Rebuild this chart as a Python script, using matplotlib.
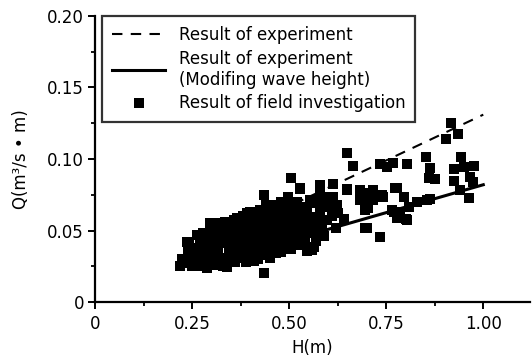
#!/usr/bin/env python3

from matplotlib import pyplot as plt
from matplotlib.ticker import MultipleLocator, FixedLocator, FixedFormatter


# field investigation (H in m, Q in m3/s/m)
h_field = [
    0.219, 0.228, 0.225,
    0.236, 0.240, 0.245, 0.250, 0.243,
    0.262, 0.258, 0.265, 0.262, 0.270, 0.270,
    0.279, 0.280, 0.285, 0.288, 0.283, 0.290,
    0.296, 0.301, 0.300, 0.305, 0.300, 0.310, 0.310,
    0.322, 0.320, 0.325, 0.318, 0.325, 0.330, 0.330,
    0.339, 0.340, 0.345, 0.340, 0.345, 0.335, 0.350, 0.350,
    0.357, 0.365, 0.360, 0.362, 0.358, 0.365, 0.360, 0.370, 0.370,
    0.380, 0.378, 0.385, 0.380, 0.384, 0.378, 0.390, 0.390, 0.388,
    0.391, 0.398, 0.400, 0.402, 0.398, 0.405, 0.400, 0.410, 0.410, 0.408,
    0.425, 0.420, 0.418, 0.425, 0.420, 0.425, 0.420, 0.430, 0.430,
    0.434, 0.440, 0.445, 0.440, 0.445, 0.440, 0.445, 0.440, 0.434, 0.450, 0.450,
    0.466, 0.460, 0.465, 0.460, 0.465, 0.460, 0.465, 0.451, 0.470,
    0.480, 0.485, 0.480, 0.485, 0.480, 0.485, 0.480, 0.490, 0.490,
    0.496, 0.504, 0.500, 0.505, 0.500, 0.505, 0.500, 0.505, 0.510, 0.510, 0.511,
    0.527, 0.520, 0.525, 0.520, 0.525, 0.520, 0.525, 0.530, 0.537,
    0.546, 0.537, 0.540, 0.545, 0.540, 0.546, 0.540, 0.528, 0.554, 0.554,
    0.563, 0.571, 0.558, 0.563, 0.560, 0.565, 0.570, 0.571, 0.584,
    0.580, 0.580, 0.597, 0.597, 0.580, 0.585, 0.590, 0.597,
    0.614, 0.614, 0.623, 0.610, 0.620, 0.606, 0.623, 0.627, 0.640,
    0.649, 0.664, 0.649, 0.650, 0.683, 0.683, 0.717, 0.700, 0.683, 0.704,
    0.696, 0.700, 0.696, 0.709, 0.717, 0.739,
    0.735, 0.752, 0.767, 0.735, 0.735, 0.743, 0.773, 0.778, 0.795, 0.769,
    0.765, 0.778, 0.786, 0.802, 0.803, 0.782, 0.808,
    0.803, 0.829, 0.853, 0.863, 0.876, 0.859, 0.862, 0.855, 0.863,
    0.917, 0.936, 0.903, 0.942, 0.925, 0.951, 0.977, 0.924, 0.966, 0.973,
    0.962, 0.941,
]
q_field = [
    0.0250, 0.0270, 0.0300,
    0.0420, 0.0360, 0.0300, 0.0250, 0.0400,
    0.0470, 0.0380, 0.0320, 0.0250, 0.0420, 0.0280,
    0.0480, 0.0380, 0.0330, 0.0235, 0.0440, 0.0280,
    0.0550, 0.0500, 0.0430, 0.0370, 0.0310, 0.0260, 0.0460,
    0.0550, 0.0480, 0.0410, 0.0350, 0.0290, 0.0250, 0.0520,
    0.0247, 0.0310, 0.0380, 0.0440, 0.0500, 0.0560, 0.0280, 0.0420,
    0.0570, 0.0585, 0.0520, 0.0460, 0.0400, 0.0340, 0.0280, 0.0490, 0.0370,
    0.0600, 0.0540, 0.0480, 0.0430, 0.0370, 0.0310, 0.0280, 0.0520, 0.0400,
    0.0620, 0.0632, 0.0570, 0.0510, 0.0450, 0.0390, 0.0330, 0.0290, 0.0550, 0.0430,
    0.0643, 0.0590, 0.0530, 0.0470, 0.0410, 0.0360, 0.0300, 0.0500, 0.0380,
    0.0748, 0.0680, 0.0620, 0.0560, 0.0500, 0.0440, 0.0380, 0.0330, 0.0200, 0.0310, 0.0580,
    0.0678, 0.0630, 0.0570, 0.0510, 0.0450, 0.0390, 0.0340, 0.0306, 0.0480,
    0.0700, 0.0640, 0.0580, 0.0520, 0.0460, 0.0400, 0.0350, 0.0610, 0.0430,
    0.0732, 0.0865, 0.0670, 0.0610, 0.0550, 0.0490, 0.0430, 0.0370, 0.0640, 0.0460, 0.0515,
    0.0790, 0.0700, 0.0640, 0.0580, 0.0520, 0.0460, 0.0400, 0.0600, 0.0667,
    0.0667, 0.0573, 0.0620, 0.0510, 0.0450, 0.0360, 0.0410, 0.0795, 0.0713, 0.0540,
    0.0597, 0.0690, 0.0364, 0.0387, 0.0480, 0.0540, 0.0430, 0.0597, 0.0550,
    0.0818, 0.0760, 0.0667, 0.0573, 0.0630, 0.0500, 0.0460, 0.0736,
    0.0825, 0.0736, 0.0667, 0.0600, 0.0520, 0.0700, 0.0680, 0.0620, 0.0580,
    0.1040, 0.0950, 0.0788, 0.0783, 0.0783, 0.0725, 0.0783, 0.0725, 0.0713, 0.0655,
    0.0643, 0.0515, 0.0520, 0.0760, 0.0713, 0.0748,
    0.0965, 0.0946, 0.0974, 0.0736, 0.0457, 0.0736, 0.0795, 0.0795, 0.0736, 0.0630,
    0.0643, 0.0585, 0.0632, 0.0578, 0.0965, 0.0585, 0.0667,
    0.0573, 0.0702, 0.1016, 0.0935, 0.0858, 0.0865, 0.0718, 0.0713, 0.0935,
    0.1254, 0.1175, 0.1138, 0.1012, 0.0928, 0.0946, 0.0951, 0.0848, 0.0876, 0.0841,
    0.0725, 0.0783,
]

# experiment curves (end points)
h_line = [0.25, 1.00]
q_experiment = [0.035, 0.131]
q_modified = [0.0235, 0.082]

x_ticks = [0, 0.25, 0.50, 0.75, 1.00]
x_tick_labels = ["0", "0.25", "0.50", "0.75", "1.00"]
y_ticks = [0, 0.05, 0.10, 0.15, 0.20]
y_tick_labels = ["0", "0.05", "0.10", "0.15", "0.20"]


def main():
    plt.rcParams["font.family"] = ["DejaVu Sans"]
    fig = plt.figure(figsize=(5.32, 3.63), dpi=100)
    ax = fig.add_axes([0.1786, 0.168, 0.8174, 0.788])

    ax.plot(h_field, q_field, "s", color="black", markersize=7.0,
            markeredgewidth=0, label="Result of field investigation",
            zorder=2)
    ax.plot(h_line, q_experiment, "--", color="black", linewidth=1.5,
            dashes=(5, 4), label="Result of experiment", zorder=3)
    ax.plot(h_line, q_modified, "-", color="black", linewidth=2.2,
            label="Result of experiment\n(Modifing wave height)", zorder=3)

    ax.set_xlim(0, 1.12)
    ax.set_ylim(0, 0.20)

    ax.xaxis.set_major_locator(FixedLocator(x_ticks))
    ax.xaxis.set_major_formatter(FixedFormatter(x_tick_labels))
    ax.yaxis.set_major_locator(FixedLocator(y_ticks))
    ax.yaxis.set_major_formatter(FixedFormatter(y_tick_labels))
    ax.xaxis.set_minor_locator(MultipleLocator(0.125))
    ax.yaxis.set_minor_locator(MultipleLocator(0.025))

    for side in ["top", "right"]:
        ax.spines[side].set_visible(False)
    for side in ["left", "bottom"]:
        ax.spines[side].set_linewidth(1.6)

    ax.tick_params(which="major", direction="out", length=5, width=1.4,
                   labelsize=12, pad=3)
    ax.tick_params(axis="x", which="major", pad=4)
    ax.tick_params(which="minor", direction="out", length=3, width=1.3)

    ax.set_xlabel("H(m)", fontsize=12, labelpad=5)
    ax.set_ylabel("Q(m³/s • m)", fontsize=12, labelpad=12)

    handles, labels = ax.get_legend_handles_labels()
    order = [1, 2, 0]
    leg = ax.legend([handles[i] for i in order], [labels[i] for i in order],
                    loc="upper left", bbox_to_anchor=(0.016, 1.0),
                    fontsize=12, frameon=True, fancybox=False,
                    edgecolor="black", handlelength=3.2, borderpad=0.6,
                    labelspacing=0.35, handletextpad=0.8, borderaxespad=0)
    leg.get_frame().set_linewidth(1.6)

    fig.savefig("out.png", dpi=100)


if __name__ == "__main__":
    main()
